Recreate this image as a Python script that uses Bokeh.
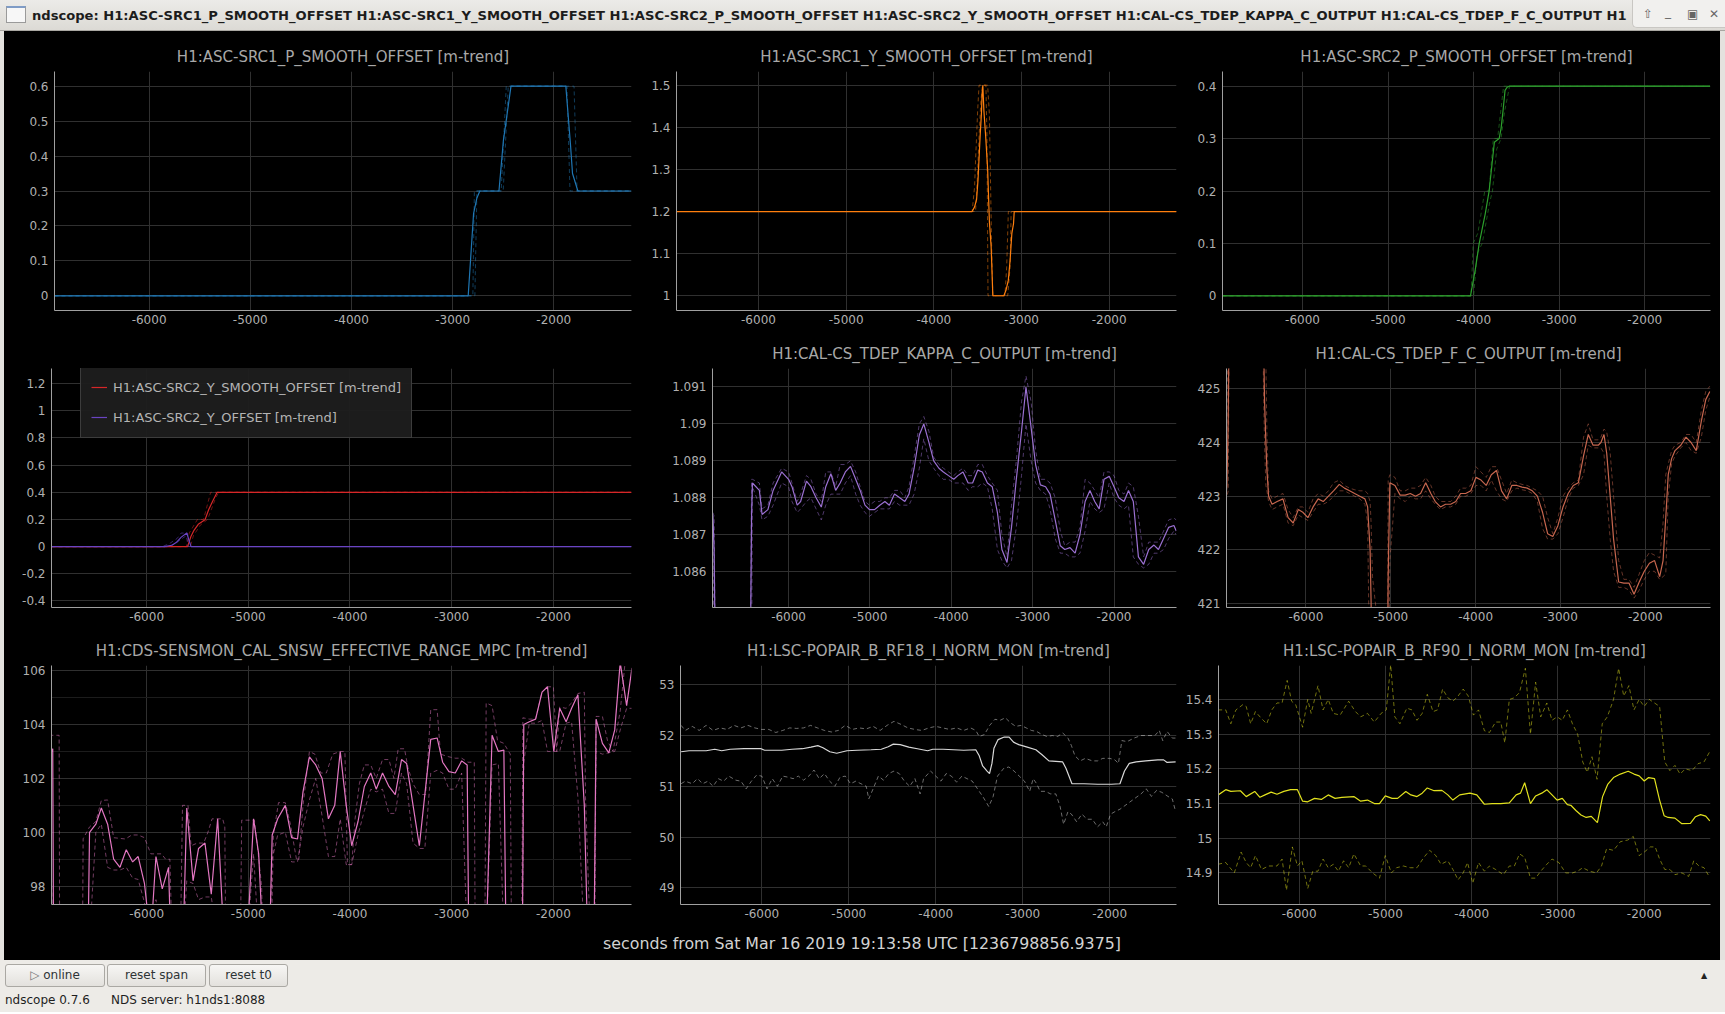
from bokeh.plotting import figure
from bokeh.layouts import column, row
from bokeh.models import Range1d, FixedTicker, CustomJSTickFormatter, Div
from bokeh.embed import file_html
from bokeh.resources import INLINE

# ---------------- data (seconds from t0, values) ----------------
X_RANGE = (-6935, -1232)
X_TICKS = [-6000, -5000, -4000, -3000, -2000]

# H1:ASC-SRC1_P_SMOOTH_OFFSET
P1T = [-6935, -2846, -2793, -2760, -2731, -2542, -2498, -2423, -1881, -1837, -1815, -1762, -1232]
P1M = [0, 0, 0.235, 0.28, 0.3, 0.3, 0.445, 0.6, 0.6, 0.44, 0.35, 0.3, 0.3]
P1XT = [-6935, -2800, -2785, -2520, -2470, -1800, -1770, -1232]
P1X = [0, 0, 0.3, 0.3, 0.6, 0.6, 0.3, 0.3]
P1NT = [-6935, -2780, -2760, -2500, -2450, -1870, -1840, -1232]
P1N = [0, 0, 0.3, 0.3, 0.6, 0.6, 0.3, 0.3]

# H1:ASC-SRC1_Y_SMOOTH_OFFSET
P2T = [-6935, -3563, -3535, -3512, -3496, -3472, -3457, -3449, -3441, -3429, -3409, -3386,
       -3366, -3346, -3327, -3201, -3177, -3150, -3130, -3110, -3091, -3083, -1232]
P2M = [1.2, 1.2, 1.211, 1.229, 1.275, 1.378, 1.433, 1.48, 1.5, 1.44, 1.38, 1.3,
       1.175, 1.116, 1.0, 1.0, 1.013, 1.037, 1.084, 1.148, 1.171, 1.2, 1.2]
P2XT = [-6935, -3563, -3535, -3524, -3512, -3500, -3484, -3386, -3366, -3354, -3339, -3327, -3189, -3169, -3150, -1232]
P2X = [1.2, 1.2, 1.259, 1.322, 1.378, 1.44, 1.5, 1.5, 1.43, 1.28, 1.1, 1.0, 1.0, 1.068, 1.2, 1.2]
P2NT = [-6935, -3524, -3504, -3484, -3465, -3445, -3406, -3394, -3382, -3157, -3130, -3118, -1232]
P2N = [1.2, 1.2, 1.275, 1.378, 1.457, 1.5, 1.5, 1.38, 1.0, 1.0, 1.068, 1.2, 1.2]

# H1:ASC-SRC2_P_SMOOTH_OFFSET
P3T = [-6935, -4037, -3981, -3935, -3912, -3865, -3819, -3758, -3702, -3679, -3656, -3633, -3609, -3586, -1237]
P3M = [0, 0, 0.05, 0.1, 0.118, 0.156, 0.2, 0.293, 0.3, 0.32, 0.354, 0.392, 0.398, 0.4, 0.4]
P3XT = [-6935, -4030, -4005, -3950, -3870, -3820, -3770, -3720, -3650, -3620, -1237]
P3X = [0, 0, 0.1, 0.12, 0.2, 0.2, 0.3, 0.3, 0.4, 0.4, 0.4]
P3NT = [-6935, -4000, -3960, -3900, -3810, -3780, -3730, -3680, -3640, -3580, -1237]
P3N = [0, 0, 0.08, 0.1, 0.18, 0.2, 0.28, 0.3, 0.35, 0.4, 0.4]

# H1:ASC-SRC2_Y_SMOOTH_OFFSET (red) and H1:ASC-SRC2_Y_OFFSET (indigo)
P4RT = [-6935, -5825, -5597, -5563, -5534, -5492, -5426, -5389, -5347, -5306, -1232]
P4RM = [0, 0, 0, 0.077, 0.12, 0.164, 0.197, 0.273, 0.339, 0.4, 0.4]
P4RXT = [-6935, -5610, -5580, -5500, -5440, -5370, -5330, -1232]
P4RX = [0, 0, 0.1, 0.2, 0.2, 0.4, 0.4, 0.4]
P4RNT = [-6935, -5570, -5540, -5470, -5400, -5320, -5290, -1232]
P4RN = [0, 0, 0.08, 0.16, 0.2, 0.36, 0.4, 0.4]
P4BT = [-6935, -5825, -5751, -5709, -5659, -5605, -5563, -1232]
P4BM = [0, 0, 0.01, 0.03, 0.07, 0.1, 0, 0]
P4BXT = [-6935, -5850, -5780, -5700, -5660, -5600, -5570, -1232]
P4BX = [0, 0, 0.02, 0.06, 0.1, 0.1, 0, 0]
P4BNT = [-6935, -5800, -5720, -5650, -5610, -5590, -1232]
P4BN = [0, 0, 0.02, 0.06, 0.08, 0, 0]

# H1:CAL-CS_TDEP_KAPPA_C_OUTPUT
KT = [-6930, -6915, -6900, -6470, -6455, -6444, -6359, -6326, -6254, -6190,
      -6085, -6000, -5958, -5894, -5852, -5780, -5725, -5662, -5598, -5543,
      -5480, -5421, -5366, -5302, -5239, -5175, -5120, -5061, -5006, -4943,
      -4879, -4816, -4761, -4698, -4634, -4571, -4520, -4457, -4393, -4338,
      -4275, -4216, -4152, -4097, -4034, -3970, -3920, -3856, -3793, -3738,
      -3674, -3619, -3556, -3497, -3433, -3378, -3315, -3260, -3201, -3137,
      -3082, -3019, -2964, -2905, -2841, -2786, -2723, -2660, -2605, -2541,
      -2478, -2419, -2355, -2296, -2237, -2182, -2123, -2059, -2000, -1941,
      -1877, -1822, -1763, -1700, -1636, -1573, -1509, -1454, -1391, -1328,
      -1264, -1235]
KM = [1.08752, 1.08657, 1.0835, 1.0835, 1.0875, 1.0884, 1.0882, 1.08755, 1.08768, 1.0882,
      1.0887, 1.0885, 1.0883, 1.0878, 1.0879, 1.08845, 1.0883, 1.0880, 1.08775, 1.0883,
      1.08865, 1.0882, 1.0884, 1.0887, 1.08885, 1.0885, 1.0882, 1.0878, 1.08768, 1.08768,
      1.0878, 1.0879, 1.0878, 1.0881, 1.0880, 1.0879, 1.0881, 1.0888, 1.0897, 1.0900,
      1.0895, 1.0890, 1.0888, 1.0887, 1.0886, 1.0885, 1.0886, 1.0887, 1.0884, 1.0884,
      1.08875, 1.0887, 1.0884, 1.0883, 1.0876, 1.0866, 1.08625, 1.0872, 1.0885, 1.0898,
      1.0910, 1.0899, 1.0889, 1.08835, 1.0883, 1.0881, 1.0874, 1.0867, 1.0866, 1.08665,
      1.0865, 1.0870, 1.0879, 1.0882, 1.0879, 1.0877, 1.0885, 1.08858, 1.0883, 1.0880,
      1.0879, 1.0882, 1.0879, 1.0864, 1.0862, 1.0866, 1.08672, 1.0866, 1.0869, 1.0872,
      1.08725, 1.0871]
KMAX = [1.0876, 1.0875, 1.0835, 1.0835, 1.0885, 1.0885, 1.0884, 1.0877, 1.0878, 1.0884,
        1.0888, 1.0887, 1.0884, 1.0879, 1.0881, 1.0886, 1.0885, 1.0881, 1.0879, 1.0887,
        1.0887, 1.0883, 1.0889, 1.0889, 1.0890, 1.0887, 1.0883, 1.0879, 1.0878, 1.0879,
        1.0879, 1.0880, 1.0880, 1.0882, 1.0882, 1.0880, 1.0883, 1.0891, 1.0900, 1.0902,
        1.0898, 1.0891, 1.0889, 1.0888, 1.0887, 1.0886, 1.0887, 1.0888, 1.0886, 1.0886,
        1.0889, 1.0889, 1.0886, 1.0884, 1.0882, 1.0870, 1.0864, 1.0878, 1.0890, 1.0906,
        1.0913, 1.0906, 1.0893, 1.0885, 1.0885, 1.0884, 1.0880, 1.0871, 1.0867, 1.0868,
        1.0868, 1.0872, 1.0885, 1.0884, 1.0882, 1.0880, 1.0887, 1.0887, 1.0886, 1.0882,
        1.0881, 1.0884, 1.0883, 1.0875, 1.0864, 1.0868, 1.0868, 1.0868, 1.0871, 1.0874,
        1.08745, 1.0874]
KMIN = [1.0873, 1.0835, 1.0835, 1.0835, 1.0835, 1.0883, 1.0878, 1.0874, 1.0875, 1.0878,
        1.0884, 1.0883, 1.0879, 1.0876, 1.0877, 1.0879, 1.0880, 1.0877, 1.0874, 1.0878,
        1.0881, 1.0881, 1.0881, 1.0884, 1.0886, 1.0881, 1.0878, 1.0876, 1.0875, 1.0876,
        1.0877, 1.0877, 1.0877, 1.0879, 1.0878, 1.0878, 1.0878, 1.0881, 1.0888, 1.0896,
        1.0890, 1.0888, 1.0886, 1.0885, 1.0885, 1.0884, 1.0884, 1.0884, 1.0882, 1.0883,
        1.0883, 1.0884, 1.0883, 1.0877, 1.0866, 1.0863, 1.0861, 1.0863, 1.0872, 1.0886,
        1.0900, 1.0890, 1.0884, 1.0882, 1.0881, 1.0877, 1.0869, 1.0865, 1.0865, 1.0864,
        1.0864, 1.0865, 1.0871, 1.0879, 1.0877, 1.0876, 1.0877, 1.0884, 1.0880, 1.0878,
        1.0877, 1.0878, 1.0864, 1.0862, 1.0861, 1.0862, 1.0865, 1.0865, 1.0866, 1.0869,
        1.0871, 1.0870]

# H1:CAL-CS_TDEP_F_C_OUTPUT
FT = [-6941, -6930, -6915, -6900, -6510, -6499, -6487, -6471, -6459, -6439,
      -6398, -6338, -6270, -6209, -6149, -6089, -6036, -5976, -5915, -5855,
      -5795, -5734, -5674, -5606, -5545, -5485, -5425, -5364, -5304, -5272,
      -5243, -5231, -5215, -5040, -5030, -5010, -4950, -4889, -4829, -4769,
      -4708, -4648, -4588, -4527, -4475, -4414, -4354, -4294, -4233, -4177,
      -4117, -4056, -3996, -3936, -3875, -3815, -3754, -3694, -3634, -3573,
      -3513, -3453, -3392, -3332, -3272, -3211, -3151, -3090, -3030, -2970,
      -2909, -2849, -2789, -2728, -2672, -2616, -2555, -2523, -2487, -2455,
      -2414, -2374, -2314, -2253, -2193, -2133, -2072, -2012, -1952, -1891,
      -1831, -1791, -1759, -1730, -1690, -1650, -1582, -1521, -1461, -1400,
      -1340, -1288, -1240]
FM = [423.0, 423.2, 424.4, 427.0, 427.0, 426.0, 424.8, 424.0, 423.5, 423.0,
      422.85, 422.9, 422.95, 422.6, 422.5, 422.75, 422.7, 422.6, 422.8, 422.95,
      422.9, 423.0, 423.1, 423.22, 423.15, 423.1, 423.05, 423.0, 422.95, 422.8,
      422.0, 421.0, 419.0, 419.0, 421.5, 423.25, 423.2, 423.02, 423.02, 423.05,
      423.0, 423.05, 423.25, 423.05, 422.9, 422.8, 422.85, 422.85, 422.9, 423.05,
      423.05, 423.1, 423.35, 423.3, 423.2, 423.4, 423.48, 423.1, 422.95, 423.2,
      423.2, 423.17, 423.15, 423.1, 423.0, 422.7, 422.3, 422.25, 422.45, 422.8,
      423.05, 423.2, 423.25, 423.75, 424.15, 423.95, 423.95, 424.0, 424.15, 423.8,
      423.0, 422.2, 421.4, 421.38, 421.38, 421.17, 421.4, 421.6, 421.75, 421.8,
      421.5, 421.8, 422.6, 423.4, 423.7, 423.85, 423.95, 424.1, 424.0, 423.85,
      424.4, 424.8, 424.95]
FMAX = [423.05, 424.0, 427.0, 427.0, 427.0, 427.0, 427.0, 425.5, 424.2, 423.1,
        422.95, 423.0, 423.05, 422.75, 422.6, 422.8, 422.8, 422.7, 422.95, 423.05,
        423.0, 423.1, 423.25, 423.3, 423.2, 423.15, 423.12, 423.1, 423.1, 423.05,
        422.9, 422.5, 421.5, 419.0, 423.3, 423.4, 423.35, 423.1, 423.1, 423.15,
        423.15, 423.2, 423.35, 423.2, 423.0, 422.9, 422.9, 422.9, 423.0, 423.15,
        423.15, 423.2, 423.55, 423.45, 423.35, 423.55, 423.55, 423.3, 423.05, 423.3,
        423.25, 423.22, 423.2, 423.15, 423.1, 423.0, 422.6, 422.3, 422.6, 423.0,
        423.15, 423.25, 423.3, 424.1, 424.35, 424.05, 424.05, 424.1, 424.25, 424.2,
        423.8, 423.0, 421.8, 421.45, 421.45, 421.3, 421.55, 421.8, 421.95, 421.9,
        421.85, 422.5, 423.4, 423.6, 423.85, 423.95, 424.0, 424.15, 424.15, 424.0,
        424.6, 424.95, 425.05]
FMIN = [422.9, 423.0, 423.1, 427.0, 427.0, 425.0, 424.0, 423.2, 423.1, 422.9,
        422.75, 422.8, 422.85, 422.5, 422.45, 422.65, 422.6, 422.55, 422.7, 422.85,
        422.85, 422.9, 423.0, 423.1, 423.1, 423.05, 423.0, 422.95, 422.85, 422.5,
        419.0, 419.0, 419.0, 419.0, 419.0, 421.8, 423.05, 422.95, 422.9, 423.0,
        422.95, 422.95, 423.1, 422.95, 422.85, 422.75, 422.8, 422.8, 422.85, 423.0,
        423.0, 423.05, 423.2, 423.2, 423.1, 423.3, 423.1, 422.95, 422.9, 423.1,
        423.15, 423.12, 423.1, 423.05, 422.9, 422.4, 422.2, 422.2, 422.3, 422.6,
        422.95, 423.15, 423.2, 423.4, 423.95, 423.9, 423.9, 423.9, 423.8, 423.0,
        422.2, 421.6, 421.3, 421.3, 421.25, 421.1, 421.25, 421.45, 421.6, 421.6,
        421.45, 421.5, 421.55, 423.0, 423.6, 423.75, 423.9, 424.0, 423.85, 423.8,
        424.1, 424.6, 424.85]

# H1:CDS-SENSMON_CAL_SNSW_EFFECTIVE_RANGE_MPC
ET = [-6956, -6923, -6915, -6575, -6561, -6499, -6445, -6383, -6324, -6262,
      -6200, -6137, -6083, -6021, -5960, -5908, -5846, -5784, -5763, -5640,
      -5605, -5543, -5489, -5426, -5364, -5301, -5239, -5010, -4948, -4898,
      -4857, -4790, -4765, -4711, -4636, -4574, -4516, -4462, -4399, -4337,
      -4274, -4212, -4150, -4096, -4037, -3983, -3921, -3859, -3796, -3742,
      -3680, -3617, -3555, -3493, -3443, -3380, -3318, -3264, -3206, -3143,
      -3089, -3027, -2965, -2902, -2848, -2832, -2660, -2603, -2541, -2487,
      -2466, -2305, -2291, -2237, -2175, -2112, -2058, -1996, -1938, -1875,
      -1821, -1759, -1696, -1663, -1600, -1580, -1518, -1455, -1397, -1343,
      -1280, -1227]
EM = [102.8, 103.1, 96, 96, 100.0, 100.3, 100.9, 100.3, 99.0, 98.7,
      99.35, 98.9, 99.1, 98.1, 96, 99.1, 97.9, 98.7, 96, 96,
      100.9, 98.2, 99.4, 99.6, 97.7, 100.5, 96, 96, 100.5, 99.2,
      96, 96, 99.9, 100.5, 101.0, 99.8, 99.75, 101.5, 102.8, 102.5,
      102.0, 100.5, 101.0, 103.0, 101.0, 99.5, 100.4, 101.7, 102.2, 101.6,
      102.2, 101.7, 101.4, 102.7, 102.55, 101.0, 99.5, 101.4, 103.45, 103.5,
      102.6, 102.25, 102.2, 102.65, 102.5, 96, 96, 103.6, 103.0, 103.05,
      96, 96, 104.0, 104.1, 104.2, 105.2, 105.4, 103.0, 104.6, 104.1,
      104.6, 105.1, 101.0, 96, 96, 104.2, 103.3, 102.95, 103.8, 106.3,
      104.7, 106.1]
EMIN = [102.7, 96, 96, 96, 96, 100.0, 100.3, 98.7, 98.6, 98.6,
        98.7, 98.3, 98.25, 97.4, 96, 97.5, 96, 96, 96, 96,
        98.2, 98.1, 97.5, 97.6, 97.6, 96, 96, 96, 99.2, 96,
        96, 96, 99.0, 99.9, 100.0, 98.9, 98.9, 100.2, 101.2, 102.0,
        100.6, 99.1, 99.1, 100.5, 98.8, 98.8, 99.9, 100.8, 101.6, 101.5,
        101.6, 100.7, 100.7, 102.2, 101.8, 99.6, 99.4, 99.4, 102.2, 102.3,
        102.2, 101.6, 101.6, 102.2, 96, 96, 96, 102.5, 102.55, 96,
        96, 96, 102.6, 104.05, 104.05, 104.15, 103.0, 103.0, 103.0, 104.05,
        104.1, 101.3, 96, 96, 96, 103.0, 102.9, 102.95, 103.0, 103.8,
        104.6, 104.6]
EXT = [-6956, -6860, -6855, -6630, -6624, -6561, -6499, -6445, -6383, -6324,
       -6208, -6146, -6083, -6021, -5958, -5854, -5813, -5771, -5750, -5667,
       -5647, -5593, -5563, -5501, -5439, -5397, -5356, -5252, -5231, -5222,
       -5077, -5065, -4940, -4919, -4869, -4857, -4773, -4753, -4703, -4636,
       -4586, -4524, -4503, -4462, -4399, -4345, -4287, -4233, -4170, -4096,
       -4050, -4025, -3983, -3950, -3908, -3859, -3796, -3742, -3680, -3617,
       -3568, -3526, -3464, -3430, -3380, -3318, -3256, -3206, -3143, -3110,
       -3027, -2965, -2902, -2840, -2778, -2769, -2674, -2661, -2603, -2549,
       -2487, -2424, -2412, -2312, -2300, -2237, -2175, -2112, -2058, -2000,
       -1967, -1938, -1875, -1821, -1759, -1696, -1684, -1655, -1634, -1593,
       -1580, -1518, -1468, -1414, -1343, -1290, -1227]
EMAX = [103.6, 103.6, 96, 96, 99.76, 100.2, 100.4, 101.18, 101.2, 99.8,
        99.75, 99.9, 99.9, 99.8, 99.2, 99.2, 99.0, 99.0, 96, 96,
        101.0, 101.0, 99.5, 99.6, 99.6, 100.0, 100.5, 100.5, 100.2, 96,
        96, 100.45, 100.45, 99.8, 98.0, 96, 96, 99.9, 101.1, 101.1,
        100.3, 98.95, 99.0, 101.0, 103.0, 102.9, 102.2, 102.2, 102.9, 103.0,
        103.0, 98.8, 98.8, 100.5, 101.8, 102.5, 102.5, 102.0, 102.7, 102.7,
        102.0, 103.1, 103.1, 102.4, 101.8, 101.4, 101.4, 104.55, 104.55, 102.9,
        102.8, 102.75, 102.75, 102.6, 102.6, 96, 96, 104.8, 104.7, 103.4,
        103.3, 102.9, 96, 96, 104.25, 104.2, 104.2, 105.2, 105.4, 105.4,
        103.0, 104.65, 104.6, 104.8, 105.15, 105.2, 101.3, 98.0, 96, 96,
        104.3, 104.3, 103.4, 103.0, 104.5, 106.5, 106.4]

# H1:LSC-POPAIR_B_RF18_I_NORM_MON
RT = [-6928, -6837, -6758, -6640, -6541, -6462, -6363, -6205, -6008, -5968,
      -5771, -5653, -5534, -5435, -5356, -5297, -5218, -5139, -5021, -4902,
      -4744, -4626, -4547, -4488, -4409, -4310, -4211, -4093, -4034, -3915,
      -3797, -3678, -3540, -3500, -3461, -3410, -3382, -3354, -3331, -3283,
      -3212, -3157, -3106, -3046, -2948, -2849, -2778, -2699, -2541, -2502,
      -2434, -2296, -2138, -1980, -1882, -1830, -1775, -1696, -1585, -1447,
      -1380, -1340, -1242]
RM = [51.68, 51.7, 51.7, 51.7, 51.73, 51.7, 51.73, 51.74, 51.74, 51.71,
      51.71, 51.73, 51.74, 51.77, 51.8, 51.76, 51.68, 51.65, 51.7, 51.71,
      51.72, 51.73, 51.78, 51.83, 51.82, 51.77, 51.74, 51.7, 51.73, 51.73,
      51.72, 51.71, 51.72, 51.6, 51.4, 51.3, 51.25, 51.45, 51.75, 51.92,
      51.97, 51.97, 51.87, 51.82, 51.77, 51.72, 51.62, 51.5, 51.48, 51.35,
      51.05, 51.05, 51.04, 51.04, 51.05, 51.3, 51.45, 51.48, 51.5, 51.52,
      51.52, 51.47, 51.48]
RXT = [-6928, -6880, -6800, -6720, -6640, -6560, -6480, -6400, -6320, -6240,
       -6160, -6080, -6000, -5920, -5840, -5760, -5680, -5600, -5520, -5440,
       -5360, -5280, -5200, -5120, -5040, -4960, -4880, -4800, -4720, -4640,
       -4560, -4480, -4400, -4320, -4240, -4160, -4080, -4000, -3920, -3840,
       -3760, -3680, -3600, -3540, -3500, -3440, -3380, -3320, -3260, -3200,
       -3140, -3080, -3020, -2960, -2900, -2840, -2780, -2720, -2660, -2600,
       -2540, -2480, -2440, -2400, -2340, -2280, -2200, -2140, -2080, -2000,
       -1940, -1900, -1860, -1800, -1720, -1640, -1560, -1480, -1430, -1390,
       -1340, -1280, -1242]
RX = [52.2, 52.1, 52.18, 52.1, 52.2, 52.1, 52.15, 52.12, 52.2, 52.15,
      52.2, 52.15, 52.12, 52.12, 52.06, 52.1, 52.15, 52.14, 52.15, 52.2,
      52.15, 52.1, 52.07, 52.1, 52.2, 52.12, 52.15, 52.13, 52.18, 52.1,
      52.2, 52.28, 52.22, 52.15, 52.12, 52.1, 52.15, 52.18, 52.15, 52.12,
      52.15, 52.1, 52.15, 52.1, 51.98, 52.02, 52.2, 52.32, 52.3, 52.35,
      52.25, 52.18, 52.2, 52.15, 52.1, 52.08, 52.02, 51.98, 52.0, 51.98,
      52.05, 51.95, 51.8, 51.6, 51.5, 51.55, 51.5, 51.5, 51.55, 51.55,
      51.52, 51.45, 51.9, 51.88, 51.95, 52.0, 52.0, 52.0, 52.1, 51.9,
      52.08, 51.95, 51.95]
RNT = [-6928, -6880, -6800, -6740, -6680, -6620, -6560, -6500, -6440, -6380,
       -6300, -6240, -6180, -6120, -6060, -6000, -5940, -5880, -5820, -5760,
       -5700, -5640, -5580, -5520, -5460, -5400, -5340, -5280, -5220, -5160,
       -5100, -5040, -4980, -4920, -4860, -4800, -4770, -4720, -4660, -4600,
       -4540, -4480, -4420, -4360, -4300, -4240, -4180, -4140, -4060, -4000,
       -3940, -3880, -3820, -3760, -3700, -3640, -3580, -3520, -3460, -3390,
       -3340, -3290, -3220, -3160, -3100, -3040, -2980, -2920, -2880, -2840,
       -2800, -2740, -2680, -2620, -2570, -2530, -2480, -2440, -2380, -2320,
       -2260, -2200, -2140, -2080, -2040, -1990, -1940, -1880, -1800, -1720,
       -1640, -1580, -1520, -1460, -1400, -1330, -1280, -1242]
RN = [51.05, 51.1, 51.05, 51.15, 51.05, 51.1, 51.0, 51.15, 51.1, 51.2,
      51.12, 51.1, 50.95, 51.1, 51.22, 51.2, 50.95, 51.15, 51.0, 51.2,
      51.18, 51.15, 51.2, 51.12, 51.2, 51.32, 51.15, 51.25, 51.1, 51.0,
      51.18, 51.2, 51.05, 51.1, 51.05, 51.0, 50.75, 50.95, 51.2, 51.12,
      51.25, 51.3, 51.25, 51.1, 51.0, 51.15, 50.85, 51.15, 51.3, 51.2,
      51.1, 51.25, 51.2, 51.08, 51.2, 51.15, 51.1, 50.95, 50.8, 50.6,
      50.8, 51.2, 51.35, 51.38, 51.3, 51.2, 51.1, 50.9, 51.15, 51.05,
      50.9, 50.9, 50.85, 50.85, 50.6, 50.25, 50.5, 50.45, 50.3, 50.45,
      50.35, 50.35, 50.2, 50.3, 50.2, 50.45, 50.5, 50.55, 50.65, 50.75,
      50.85, 50.95, 50.8, 50.92, 50.88, 50.8, 50.75, 50.5]

# H1:LSC-POPAIR_B_RF90_I_NORM_MON
YT = [-6939, -6851, -6792, -6681, -6614, -6515, -6455, -6396, -6325, -6257,
      -6178, -6099, -6020, -5960, -5901, -5822, -5743, -5663, -5584, -5505,
      -5366, -5287, -5208, -5129, -5069, -5002, -4923, -4859, -4764, -4705,
      -4634, -4574, -4515, -4436, -4345, -4277, -4218, -4139, -4020, -3941,
      -3853, -3762, -3663, -3564, -3485, -3434, -3386, -3319, -3259, -3188,
      -3129, -3069, -3010, -2950, -2891, -2851, -2792, -2733, -2673, -2614,
      -2543, -2483, -2424, -2356, -2277, -2186, -2119, -2059, -2000, -1949,
      -1881, -1822, -1770, -1723, -1644, -1564, -1465, -1406, -1347, -1287,
      -1240]
YM = [15.125, 15.14, 15.135, 15.137, 15.12, 15.135, 15.118, 15.125, 15.133, 15.127,
      15.135, 15.14, 15.14, 15.107, 15.105, 15.115, 15.112, 15.125, 15.115, 15.118,
      15.12, 15.107, 15.11, 15.1, 15.1, 15.122, 15.115, 15.115, 15.135, 15.125,
      15.12, 15.13, 15.145, 15.137, 15.138, 15.125, 15.11, 15.125, 15.13, 15.125,
      15.098, 15.1, 15.1, 15.102, 15.125, 15.13, 15.16, 15.1, 15.122, 15.13,
      15.14, 15.125, 15.11, 15.115, 15.097, 15.095, 15.08, 15.067, 15.06, 15.063,
      15.045, 15.12, 15.155, 15.175, 15.185, 15.193, 15.185, 15.18, 15.165, 15.175,
      15.172, 15.11, 15.065, 15.06, 15.058, 15.042, 15.043, 15.062, 15.068, 15.064,
      15.05]
YXT = [-6939, -6851, -6792, -6733, -6653, -6614, -6562, -6507, -6436, -6376,
       -6317, -6257, -6198, -6139, -6087, -6040, -5960, -5901, -5861, -5782,
       -5723, -5663, -5604, -5525, -5426, -5347, -5287, -5208, -5129, -5050,
       -4990, -4939, -4891, -4832, -4752, -4693, -4634, -4574, -4515, -4448,
       -4396, -4337, -4277, -4218, -4158, -4099, -4040, -3980, -3921, -3853,
       -3794, -3723, -3663, -3616, -3564, -3505, -3446, -3378, -3319, -3259,
       -3200, -3129, -3069, -3010, -2950, -2891, -2832, -2772, -2713, -2661,
       -2606, -2547, -2487, -2428, -2356, -2297, -2238, -2178, -2119, -2059,
       -2000, -1941, -1822, -1762, -1703, -1644, -1584, -1525, -1446, -1376,
       -1307, -1240]
YX = [15.37, 15.37, 15.33, 15.37, 15.385, 15.38, 15.33, 15.365, 15.345, 15.33,
      15.37, 15.39, 15.39, 15.455, 15.395, 15.385, 15.32, 15.4, 15.36, 15.44,
      15.37, 15.4, 15.36, 15.355, 15.395, 15.365, 15.35, 15.36, 15.335, 15.36,
      15.37, 15.5, 15.35, 15.33, 15.375, 15.37, 15.34, 15.36, 15.415, 15.365,
      15.37, 15.43, 15.405, 15.395, 15.41, 15.43, 15.41, 15.355, 15.37, 15.31,
      15.305, 15.335, 15.335, 15.275, 15.4, 15.405, 15.42, 15.49, 15.3, 15.45,
      15.35, 15.39, 15.34, 15.35, 15.34, 15.37, 15.33, 15.3, 15.22, 15.19,
      15.235, 15.17, 15.33, 15.35, 15.4, 15.49, 15.41, 15.44, 15.37, 15.4,
      15.38, 15.4, 15.38, 15.22, 15.195, 15.21, 15.185, 15.2, 15.195, 15.215,
      15.22, 15.25]
YNT = [-6939, -6851, -6752, -6673, -6614, -6562, -6507, -6436, -6356, -6257,
       -6198, -6147, -6079, -6020, -5968, -5901, -5842, -5782, -5723, -5663,
       -5604, -5545, -5485, -5426, -5366, -5287, -5228, -5149, -5069, -5002,
       -4931, -4871, -4792, -4713, -4634, -4554, -4487, -4416, -4356, -4277,
       -4218, -4158, -4099, -4048, -3988, -3921, -3853, -3794, -3723, -3632,
       -3564, -3505, -3446, -3386, -3319, -3259, -3200, -3129, -3069, -2990,
       -2911, -2832, -2772, -2713, -2634, -2554, -2495, -2436, -2356, -2277,
       -2190, -2127, -2059, -2000, -1929, -1873, -1822, -1762, -1703, -1644,
       -1564, -1485, -1426, -1366, -1307, -1248]
YN = [14.925, 14.93, 14.9, 14.96, 14.93, 14.915, 14.95, 14.91, 14.92, 14.92,
      14.94, 14.85, 14.975, 14.92, 14.935, 14.855, 14.905, 14.905, 14.94, 14.915,
      14.925, 14.905, 14.935, 14.915, 14.955, 14.92, 14.92, 14.9, 14.885, 14.95,
      14.9, 14.915, 14.92, 14.915, 14.915, 14.945, 14.965, 14.95, 14.925, 14.935,
      14.91, 14.88, 14.9, 14.93, 14.87, 14.93, 14.905, 14.92, 14.91, 14.895,
      14.92, 14.92, 14.955, 14.945, 14.885, 14.885, 14.905, 14.925, 14.94, 14.93,
      14.9, 14.9, 14.905, 14.915, 14.905, 14.9, 14.92, 14.97, 14.965, 14.99,
      14.995, 15.005, 14.95, 14.96, 14.975, 14.975, 14.94, 14.91, 14.91, 14.895,
      14.9, 14.89, 14.935, 14.92, 14.915, 14.89]

# axis ticks / ranges
Y1_TICKS = [0, 0.1, 0.2, 0.3, 0.4, 0.5, 0.6]
Y2_TICKS = [1, 1.1, 1.2, 1.3, 1.4, 1.5]
Y3_TICKS = [0, 0.1, 0.2, 0.3, 0.4]
Y4_TICKS = [-0.4, -0.2, 0, 0.2, 0.4, 0.6, 0.8, 1, 1.2]
Y5_TICKS = [1.086, 1.087, 1.088, 1.089, 1.09, 1.091]
Y6_TICKS = [421, 422, 423, 424, 425]
Y7_TICKS = [98, 100, 102, 104, 106]
Y7_MINOR = [97, 99, 101, 103, 105]
Y8_TICKS = [49, 50, 51, 52, 53]
Y9_TICKS = [14.9, 15, 15.1, 15.2, 15.3, 15.4]

TITLES = ["H1:ASC-SRC1_P_SMOOTH_OFFSET [m-trend]", "H1:ASC-SRC1_Y_SMOOTH_OFFSET [m-trend]",
          "H1:ASC-SRC2_P_SMOOTH_OFFSET [m-trend]", None,
          "H1:CAL-CS_TDEP_KAPPA_C_OUTPUT [m-trend]", "H1:CAL-CS_TDEP_F_C_OUTPUT [m-trend]",
          "H1:CDS-SENSMON_CAL_SNSW_EFFECTIVE_RANGE_MPC [m-trend]",
          "H1:LSC-POPAIR_B_RF18_I_NORM_MON [m-trend]", "H1:LSC-POPAIR_B_RF90_I_NORM_MON [m-trend]"]
LEGEND_LABELS = ["H1:ASC-SRC2_Y_SMOOTH_OFFSET [m-trend]", "H1:ASC-SRC2_Y_OFFSET [m-trend]"]
WINDOW_TITLE = ("ndscope: H1:ASC-SRC1_P_SMOOTH_OFFSET H1:ASC-SRC1_Y_SMOOTH_OFFSET "
                "H1:ASC-SRC2_P_SMOOTH_OFFSET H1:ASC-SRC2_Y_SMOOTH_OFFSET H1:CAL-CS_TDEP_KAPPA_C_OUTPUT "
                "H1:CAL-CS_TDEP_F_C_OUTPUT H1")
XLABEL = "seconds from Sat Mar 16 2019 19:13:58 UTC [1236798856.9375]"

# ---------------- styling ----------------
FONT = "DejaVu Sans"
TXT = "#b0b0b0"
GRID = "#303030"
AXIS = "#a0a0a0"
CHROME = "#e4e2de"

fmt_code = "return (Math.round(tick*1e6)/1e6).toString();"


def panel(w, h, left, right, top, bottom, yr, yticks, title=None, yminor=None):
    kw = dict(width=w, height=h, x_range=Range1d(*X_RANGE), y_range=Range1d(*yr),
              output_backend="svg", toolbar_location=None,
              min_border_left=left, min_border_right=right,
              min_border_top=top, min_border_bottom=bottom,
              background_fill_color="black", border_fill_color="black",
              outline_line_color=None, margin=0,
              styles={"background-color": "black"})
    if title:
        kw["title"] = title
    p = figure(**kw)
    if title:
        p.title.text_font = FONT
        p.title.text_font_size = "15px"
        p.title.text_font_style = "normal"
        p.title.text_color = "#a8a8a8"
        p.title.align = "center"
        p.title.standoff = 11
    p.xaxis.ticker = FixedTicker(ticks=X_TICKS)
    if yminor:
        p.yaxis.ticker = FixedTicker(ticks=yticks, minor_ticks=yminor)
    else:
        p.yaxis.ticker = FixedTicker(ticks=yticks)
    for ax in (p.xaxis[0], p.yaxis[0]):
        ax.formatter = CustomJSTickFormatter(code=fmt_code)
        ax.axis_line_color = AXIS
        ax.axis_line_width = 1
        ax.major_tick_line_color = None
        ax.minor_tick_line_color = None
        ax.major_tick_out = 0
        ax.major_tick_in = 0
        ax.minor_tick_out = 0
        ax.minor_tick_in = 0
        ax.major_label_text_color = TXT
        ax.major_label_text_font = FONT
        ax.major_label_text_font_size = "12px"
    p.yaxis.major_label_standoff = 6
    p.xaxis.major_label_standoff = 4
    p.xgrid.grid_line_color = GRID
    p.ygrid.grid_line_color = GRID
    if yminor:
        p.ygrid.minor_grid_line_color = "#1c1c1c"
    return p


def trace(p, t, v, color, tx=None, vx=None, tn=None, vn=None, label=None, width=1.2):
    if tx is not None:
        p.line(tx, vx, line_color=color, line_alpha=0.5, line_width=1, line_dash="4 3")
    if tn is not None:
        p.line(tn, vn, line_color=color, line_alpha=0.5, line_width=1, line_dash="4 3")
    if label:
        p.line(t, v, line_color=color, line_width=width, legend_label=label)
    else:
        p.line(t, v, line_color=color, line_width=width)


W1, W2, W3 = 644, 530, 542
H1, H2, H3 = 299, 297, 297

f1 = panel(W1, H1, 50, 17, 40, 20, (-0.042, 0.642), Y1_TICKS, TITLES[0])
trace(f1, P1T, P1M, "#1f77b4", P1XT, P1X, P1NT, P1N)
f2 = panel(W2, H1, 28, 2, 40, 20, (0.965, 1.5325), Y2_TICKS, TITLES[1])
trace(f2, P2T, P2M, "#ff7f0e", P2XT, P2X, P2NT, P2N)
f3 = panel(W3, H1, 44, 10, 40, 20, (-0.028, 0.428), Y3_TICKS, TITLES[2])
trace(f3, P3T, P3M, "#2ca02c", P3XT, P3X, P3NT, P3N)

f4 = panel(W1, H2, 47, 17, 8, 20, (-0.448, 1.311), Y4_TICKS, None)
trace(f4, P4RT, P4RM, "#d62728", P4RXT, P4RX, P4RNT, P4RN, label=LEGEND_LABELS[0])
trace(f4, P4BT, P4BM, "#6a44c2", P4BXT, P4BX, P4BNT, P4BN, label=LEGEND_LABELS[1])
lg = f4.legend[0]
lg.location = (29, 169)
lg.background_fill_color = "#1e1e1e"
lg.background_fill_alpha = 0.95
lg.border_line_color = "#5c5c5c"
lg.border_line_width = 1
lg.label_text_color = "#b4b4b4"
lg.label_text_font = FONT
lg.label_text_font_size = "13px"
lg.padding = 10
lg.spacing = 10
lg.glyph_width = 16
lg.label_standoff = 6
lg.margin = 0

f5 = panel(W2, H2, 64, 2, 38, 20, (1.08503, 1.0915), Y5_TICKS, TITLES[4])
trace(f5, KT, KM, "#9b70d2", KT, KMAX, KT, KMIN)
f6 = panel(W3, H2, 48, 10, 38, 20, (420.925, 425.38), Y6_TICKS, TITLES[5])
trace(f6, FT, FM, "#c8674f", FT, FMAX, FT, FMIN)

f7 = panel(W1, H3, 47, 17, 38, 20, (97.32, 106.19), Y7_TICKS, TITLES[6], Y7_MINOR)
trace(f7, ET, EM, "#e377c2", EXT, EMAX, ET, EMIN)
f8 = panel(W2, H3, 32, 2, 38, 20, (48.67, 53.38), Y8_TICKS, TITLES[7])
trace(f8, RT, RM, "#d8d8d8", RXT, RX, RNT, RN)
f9 = panel(W3, H3, 40, 10, 38, 20, (14.809, 15.498), Y9_TICKS, TITLES[8])
trace(f9, YT, YM, "#e2e21e", YXT, YX, YNT, YN)


def edge(w, h):
    return Div(text="", width=w, height=h, margin=0,
               styles={"background-color": CHROME})


# ---------------- window chrome ----------------
title_html = f"""
<div style="position:relative;width:1725px;height:31px;overflow:hidden;
 background:linear-gradient(#ecebe8,#dcdad5);border-bottom:1px solid #a9a7a2;box-sizing:border-box;
 font-family:'DejaVu Sans';">
 <div style="position:absolute;left:6px;top:6px;width:20px;height:17px;background:#f7f7f7;
  border:1px solid #9a9a9a;border-top:2px solid #7f9cc6;box-sizing:border-box;"></div>
 <div style="position:absolute;left:32px;top:7px;height:17px;line-height:17px;
  font-size:13.1px;font-weight:bold;color:#1c1c1c;white-space:nowrap;">{WINDOW_TITLE}</div>
 <div style="position:absolute;left:1632px;top:0px;width:93px;height:28px;background:#f1f0ee;
  border-left:1px solid #c9c7c3;border-bottom:1px solid #c9c7c3;border-bottom-left-radius:5px;
  font-size:12px;color:#666;line-height:14px;">
  <span style="position:absolute;left:10px;top:7px;">&#8679;</span>
  <span style="position:absolute;left:32px;top:5px;">_</span>
  <span style="position:absolute;left:54px;top:7px;">&#9635;</span>
  <span style="position:absolute;left:76px;top:7px;">&#10005;</span>
 </div>
</div>"""

label_html = f"""
<div style="width:1725px;height:36px;background:#000;color:#d2d2d2;font-family:'DejaVu Sans';
 font-size:15.8px;text-align:center;padding-top:10px;line-height:20px;box-sizing:border-box;
 border-left:4px solid {CHROME};border-right:5px solid {CHROME};white-space:nowrap;">{XLABEL}</div>"""

btn = ("position:absolute;top:4px;height:23px;box-sizing:border-box;border:1px solid #aaa8a3;"
       "border-radius:3px;background:linear-gradient(#f7f6f4,#e3e1dd);font-size:12px;color:#2e3436;"
       "line-height:21px;text-align:center;")
bottom_html = f"""
<div style="position:relative;width:1725px;height:52px;background:#edebe7;overflow:hidden;
 font-family:'DejaVu Sans';">
 <div style="{btn}left:5px;width:100px;"><span style="color:#777;">&#9655;</span> online</div>
 <div style="{btn}left:107px;width:99px;">reset span</div>
 <div style="{btn}left:209px;width:79px;">reset t0</div>
 <div style="position:absolute;left:5px;top:33px;font-size:12px;color:#1e1e1e;line-height:14px;white-space:nowrap;">ndscope 0.7.6</div>
 <div style="position:absolute;left:111px;top:33px;font-size:12px;color:#1e1e1e;line-height:14px;white-space:nowrap;">NDS server: h1nds1:8088</div>
 <div style="position:absolute;left:1701px;top:10px;font-size:8px;color:#222;">&#9650;</div>
</div>"""

title_div = Div(text=title_html, width=1725, height=31, margin=0)
label_div = Div(text=label_html, width=1725, height=36, margin=0)
bottom_div = Div(text=bottom_html, width=1725, height=52, margin=0)

BLACK = {"background-color": "black"}
layout = column(title_div,
                row(edge(4, H1), f1, f2, f3, edge(5, H1), spacing=0, margin=0, styles=BLACK),
                row(edge(4, H2), f4, f5, f6, edge(5, H2), spacing=0, margin=0, styles=BLACK),
                row(edge(4, H3), f7, f8, f9, edge(5, H3), spacing=0, margin=0, styles=BLACK),
                label_div, bottom_div, spacing=0, margin=0, styles=BLACK)

open("out.html", "w").write(file_html(layout, INLINE, title="ndscope"))
